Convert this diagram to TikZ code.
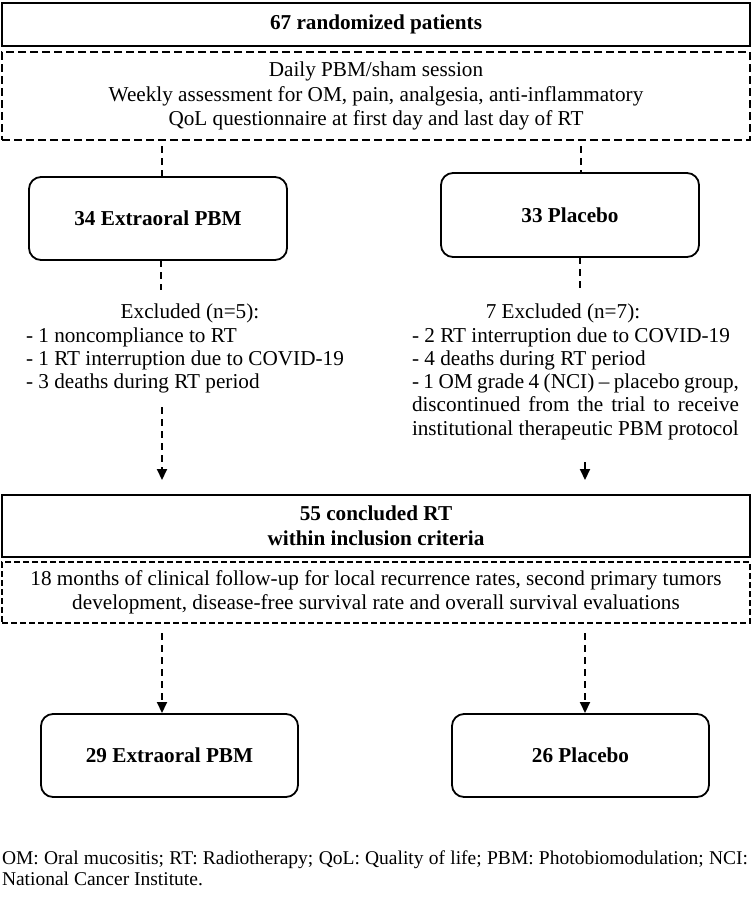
\documentclass[tikz,border=0pt]{standalone}
\usepackage{fontspec}
\setmainfont{Liberation Serif}
\usetikzlibrary{arrows.meta}
\newcommand\fsA{\fontsize{21.2}{23.3}\selectfont}
\newcommand\fsB{\fontsize{21.2}{24.5}\selectfont}
\newcommand\fsC{\fontsize{21.2}{24}\selectfont}
\newcommand\fsE{\fontsize{21.2}{25}\selectfont}
\newcommand\fsD{\fontsize{19.5}{21}\selectfont}
\begin{document}
\begin{tikzpicture}[x=1pt,y=-1pt,
  solidbox/.style={draw=black,line width=1.8pt,inner sep=0pt,outer sep=0pt,align=center,font=\fsA\bfseries},
  roundbox/.style={solidbox,rounded corners=12pt},
  dashbox/.style={draw=black,line width=1.6pt,dash pattern=on 8pt off 4pt,inner sep=0pt,outer sep=0pt,align=center},
  conn/.style={draw=black,line width=2pt,dash pattern=on 7pt off 5pt},
  arr/.style={conn,-{Triangle[width=10pt,length=11pt]}},
  plain/.style={inner sep=0pt,outer sep=0pt,font=\fsA}
]
\useasboundingbox (0,0) rectangle (752,900);

\node[solidbox,minimum width=748pt,minimum height=43pt] (top) at (376,24.5) {67 randomized patients};

\node[dashbox,font=\fsB,minimum width=748pt,minimum height=88pt] (sess) at (376,96)
  {Daily PBM/sham session\\Weekly assessment for OM, pain, analgesia, anti-inflammatory\\QoL questionnaire at first day and last day of RT};

\node[roundbox,minimum width=258pt,minimum height=83pt] (pbm1) at (158,218.5) {34 Extraoral PBM};
\node[roundbox,minimum width=258pt,minimum height=84pt] (pla1) at (570,215) {33 Placebo};

\node[plain,anchor=base] (exLh) at (190,318) {Excluded (n=5):};
\node[plain,anchor=base west] (exL) at (26,342) {\parbox[t]{330pt}{\raggedright
  - 1 noncompliance to RT\\
  - 1 RT interruption due to COVID-19\\
  - 3 deaths during RT period}};

\node[plain,anchor=base] (exRh) at (563,318) {7 Excluded (n=7):};
\node[plain,anchor=base west] (exR) at (412,342) {\parbox[t]{327pt}{\raggedright
  - 2 RT interruption due to COVID-19\\
  - 4 deaths during RT period\\
  \makebox[327pt][s]{- 1 OM grade 4 (NCI) – placebo group,}\\
  \makebox[327pt][s]{discontinued from the trial to receive}\\
  institutional therapeutic PBM protocol}};

\node[solidbox,font=\fsE\bfseries,minimum width=748pt,minimum height=62pt] (done) at (376,526)
  {55 concluded RT\\within inclusion criteria};
\node[dashbox,font=\fsC,dash pattern=on 6pt off 3pt,minimum width=748pt,minimum height=61pt] (fup) at (376,592.5)
  {18 months of clinical follow-up for local recurrence rates, second primary tumors\\development, disease-free survival rate and overall survival evaluations};

\node[roundbox,minimum width=257pt,minimum height=83pt] (pbm2) at (169.5,755.5) {29 Extraoral PBM};
\node[roundbox,minimum width=257pt,minimum height=83pt] (pla2) at (580.5,755.5) {26 Placebo};

\node[plain,font=\fsD,anchor=base west] (note) at (2,864) {\parbox[t]{746pt}{%
  \makebox[746pt][s]{OM: Oral mucositis; RT: Radiotherapy; QoL: Quality of life; PBM: Photobiomodulation; NCI:}\\
  National Cancer Institute.}};

\coordinate (xl) at (162,0);
\coordinate (xr) at (581,0);
\draw[conn,shorten <=6pt] (sess.south -| xl) -- (pbm1.north -| xl);
\draw[conn,shorten <=6pt] (sess.south -| xr) -- (pla1.north -| xr);
\coordinate (eL) at (161,290);
\coordinate (eR) at (580,290);
\draw[conn] (pbm1.south -| eL) -- (eL);
\draw[conn] (pla1.south -| eR) -- (eR);
\coordinate (sL) at (162,407);
\coordinate (sR) at (585,462);
\draw[arr,shorten >=15pt] (sL) -- (done.north -| sL);
\draw[arr,shorten >=15pt] (sR) -- (done.north -| sR);
\coordinate (bl) at (162,0);
\coordinate (br) at (585,0);
\draw[arr,shorten <=10pt,shorten >=1pt] (fup.south -| bl) -- (pbm2.north -| bl);
\draw[arr,shorten <=10pt,shorten >=1pt] (fup.south -| br) -- (pla2.north -| br);
\end{tikzpicture}
\end{document}
